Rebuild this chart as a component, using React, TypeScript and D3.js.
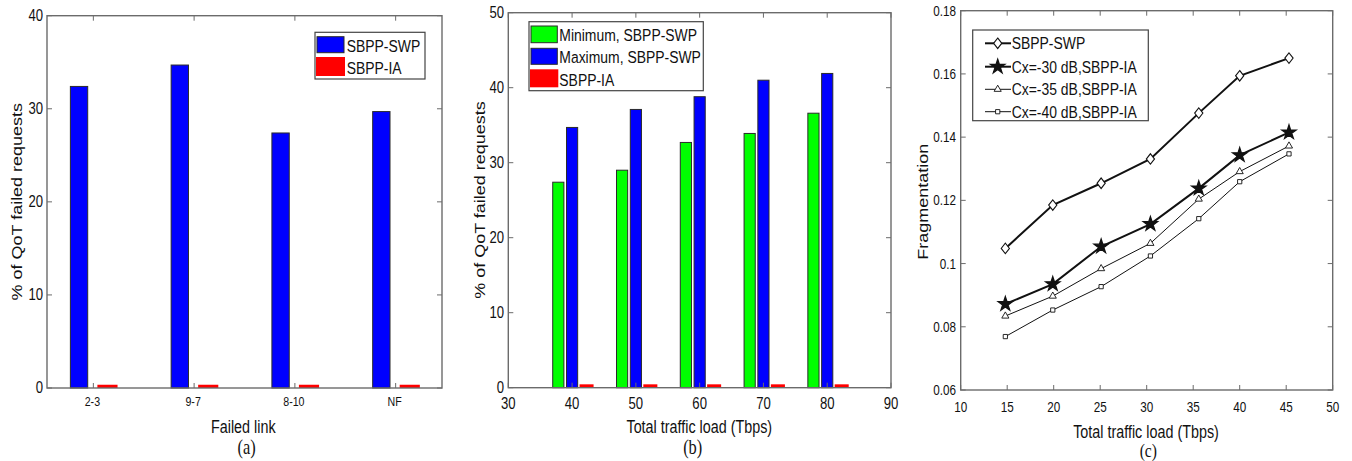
import { useEffect, useRef } from "react";
import * as d3 from "d3";

// (a) failed link
const linkLabels = ["2-3", "9-7", "8-10", "NF"];
const swpPerLink = [32.4, 34.7, 27.4, 29.7];
const iaPerLink = [0.35, 0.35, 0.35, 0.35];

// (b) total traffic load
const loadTbps = [40, 50, 60, 70, 80];
const minSwp = [27.4, 29.0, 32.7, 33.9, 36.6];
const maxSwp = [34.7, 37.1, 38.8, 41.0, 41.9];
const iaPerLoad = [0.45, 0.45, 0.45, 0.45, 0.45];

// (c) fragmentation
const fragLoad = [14.8, 19.9, 25.1, 30.4, 35.6, 40.0, 45.3];
const fragSwp = [0.1048, 0.1185, 0.1254, 0.1331, 0.1476, 0.1594, 0.165];
const fragCx30 = [0.0872, 0.0935, 0.1054, 0.1125, 0.1238, 0.1343, 0.1415];
const fragCx35 = [0.0834, 0.0897, 0.0984, 0.1064, 0.1204, 0.1291, 0.1372];
const fragCx40 = [0.0769, 0.0853, 0.0927, 0.1024, 0.1142, 0.1259, 0.1347];

const SANS = "'Liberation Sans', Arial, Helvetica, sans-serif";
const SERIF = "'Liberation Serif', 'Times New Roman', serif";
const AX = "#6b6b6b";
const EDGE = "#2b2b2b";
const SQ = 0.82; // the whole figure looks squeezed sideways

// squeezed text, centred vertically on y
function txt(g, x, y, s, size, anchor = "middle", opt: any = {}) {
    const sx = opt.sx ?? SQ;
    g.append("text")
        .attr("transform", `translate(${x},${y}) scale(${sx},1)` + (opt.rot ? " rotate(-90)" : ""))
        .attr("text-anchor", anchor)
        .attr("dominant-baseline", "central")
        .style("font-family", opt.family ?? SANS)
        .style("font-size", size + "px")
        .attr("fill", "#111")
        .text(s);
}

// box with inward ticks on all four sides (matlab style)
function frame(g, x, y, xt, yt) {
    const [x0, x1] = x.range();
    const [y0, y1] = y.range();
    const tl = 5;
    xt.forEach(t => {
        g.append("line").attr("x1", x(t)).attr("x2", x(t)).attr("y1", y0).attr("y2", y0 - tl).attr("stroke", AX);
        g.append("line").attr("x1", x(t)).attr("x2", x(t)).attr("y1", y1).attr("y2", y1 + tl).attr("stroke", AX);
    });
    yt.forEach(t => {
        g.append("line").attr("x1", x0).attr("x2", x0 + tl).attr("y1", y(t)).attr("y2", y(t)).attr("stroke", AX);
        g.append("line").attr("x1", x1).attr("x2", x1 - tl).attr("y1", y(t)).attr("y2", y(t)).attr("stroke", AX);
    });
    g.append("rect")
        .attr("x", x0).attr("y", y1)
        .attr("width", x1 - x0).attr("height", y0 - y1)
        .attr("fill", "none").attr("stroke", AX).attr("stroke-width", 1.4);
}

function bars(g, x, y, xs, vals, off, w, fill, stroke) {
    g.selectAll(null)
        .data(vals)
        .enter()
        .append("rect")
        .attr("x", (_, i) => x(xs[i] + off - w / 2))
        .attr("width", (_, i) => x(xs[i] + off + w / 2) - x(xs[i] + off - w / 2))
        .attr("y", d => y(d))
        .attr("height", d => y(0) - y(d))
        .attr("fill", fill)
        .attr("stroke", stroke ?? "none")
        .attr("stroke-width", 1);
}

function legendBox(g, x0, y0, x1, y1) {
    g.append("rect").attr("x", x0).attr("y", y0).attr("width", x1 - x0).attr("height", y1 - y0)
        .attr("fill", "white").attr("stroke", "#444").attr("stroke-width", 1.2);
}

function App() {
    const svgRef = useRef(null);

    useEffect(() => {
        const svg = d3.select(svgRef.current);
        svg.selectAll("*").remove();

        /* ---------- (a) ---------- */
        const ga = svg.append("g");
        const xa = d3.scaleLinear().domain([0.54, 4.46]).range([47, 442]);
        const ya = d3.scaleLinear().domain([0, 40]).range([388, 15.7]);
        const catX = linkLabels.map((_, i) => i + 1);
        bars(ga, xa, ya, catX, swpPerLink, -0.142, 0.172, "#0000ff", EDGE);
        bars(ga, xa, ya, catX, iaPerLink, 0.14, 0.2, "#ff0000");
        frame(ga, xa, ya, catX, ya.ticks(4));
        ya.ticks(4).forEach(t => txt(ga, 43, ya(t), String(t), 16, "end"));
        linkLabels.forEach((l, i) => txt(ga, xa(i + 1) - 1, 401.7, l, 13));
        txt(ga, 243.3, 426.7, "Failed link", 17.5);
        txt(ga, 17, 201.7, "% of QoT failed requests", 18, "middle", { rot: true });
        txt(ga, 246.7, 447, "(a)", 20, "middle", { family: SERIF });
        legendBox(ga, 315, 32.3, 425, 79);
        ga.append("rect").attr("x", 317).attr("y", 36.7).attr("width", 27).attr("height", 16).attr("fill", "#0000ff").attr("stroke", EDGE);
        ga.append("rect").attr("x", 316).attr("y", 57).attr("width", 29).attr("height", 19).attr("fill", "#ff0000");
        txt(ga, 346.7, 45.7, "SBPP-SWP", 17, "start");
        txt(ga, 346.7, 67.7, "SBPP-IA", 17, "start");

        /* ---------- (b) ---------- */
        const gb = svg.append("g");
        const xb = d3.scaleLinear().domain([30, 90]).range([508.3, 891]);
        const yb = d3.scaleLinear().domain([0, 50]).range([387.7, 12.7]);
        bars(gb, xb, yb, loadTbps, minSwp, -2.16, 1.75, "#00ff00", EDGE);
        bars(gb, xb, yb, loadTbps, maxSwp, 0, 1.75, "#0000ff", EDGE);
        bars(gb, xb, yb, loadTbps, iaPerLoad, 2.27, 2.2, "#ff0000");
        frame(gb, xb, yb, xb.ticks(6), yb.ticks(5));
        yb.ticks(5).forEach(t => txt(gb, 504, yb(t), String(t), 16, "end"));
        xb.ticks(6).forEach(t => txt(gb, xb(t), 404, String(t), 16));
        txt(gb, 699.3, 427.3, "Total traffic load (Tbps)", 17.5);
        txt(gb, 479.3, 200, "% of QoT failed requests", 18, "middle", { rot: true });
        txt(gb, 692.7, 447, "(b)", 20, "middle", { family: SERIF });
        legendBox(gb, 529, 21.7, 703.3, 90.7);
        gb.append("rect").attr("x", 531).attr("y", 26).attr("width", 26.3).attr("height", 16.7).attr("fill", "#00ff00").attr("stroke", EDGE);
        gb.append("rect").attr("x", 531).attr("y", 48.3).attr("width", 26.3).attr("height", 16).attr("fill", "#0000ff").attr("stroke", EDGE);
        gb.append("rect").attr("x", 530).attr("y", 69.3).attr("width", 28.3).attr("height", 18).attr("fill", "#ff0000");
        txt(gb, 559.3, 35, "Minimum, SBPP-SWP", 17, "start");
        txt(gb, 559.3, 57.3, "Maximum, SBPP-SWP", 17, "start");
        txt(gb, 559.3, 80, "SBPP-IA", 17, "start");

        /* ---------- (c) ---------- */
        const gc = svg.append("g");
        const xc = d3.scaleLinear().domain([10, 50]).range([960.7, 1332.7]);
        const yc = d3.scaleLinear().domain([0.06, 0.18]).range([390, 10.7]);
        const yTicksC = d3.range(0.06, 0.1801, 0.02);
        const xTicksC = d3.range(10, 50.01, 5);
        frame(gc, xc, yc, xTicksC, yTicksC);
        yTicksC.forEach(t => txt(gc, 956, yc(t), d3.format("~g")(+t.toFixed(2)), 15, "end", { sx: 0.78 }));
        xTicksC.forEach(t => txt(gc, xc(t), 407.3, String(t), 15, "middle", { sx: 0.78 }));
        txt(gc, 1146, 431.7, "Total traffic load (Tbps)", 17.5);
        txt(gc, 922.7, 201.7, "Fragmentation", 18, "middle", { rot: true });
        txt(gc, 1148.3, 451, "(c)", 19, "middle", { family: SERIF });

        const series = [
            { name: "SBPP-SWP", vals: fragSwp, lw: 2, sym: d3.symbolDiamond2, size: 70, fill: "white", sx: 0.78 },
            { name: "Cx=-30 dB,SBPP-IA", vals: fragCx30, lw: 2, sym: d3.symbolStar, size: 62, fill: "#111", sx: 1 },
            { name: "Cx=-35 dB,SBPP-IA", vals: fragCx35, lw: 1, sym: d3.symbolTriangle, size: 22, fill: "white", sx: 1 },
            { name: "Cx=-40 dB,SBPP-IA", vals: fragCx40, lw: 1, sym: d3.symbolSquare, size: 18, fill: "white", sx: 1 },
        ];
        const line = d3.line()
            .x((_, i) => xc(fragLoad[i]))
            .y(d => yc(d));
        const marker = (g, s, cx, cy) => {
            g.append("path")
                .attr("d", d3.symbol(s.sym, s.size)())
                .attr("transform", `translate(${cx},${cy}) scale(${s.sx},1)`)
                .attr("fill", s.fill)
                .attr("stroke", "#111")
                .attr("stroke-width", s.lw === 2 ? 1.3 : 0.9);
        };
        series.forEach(s => {
            gc.append("path")
                .attr("d", line(s.vals))
                .attr("fill", "none")
                .attr("stroke", "#111")
                .attr("stroke-width", s.lw);
            s.vals.forEach((v, i) => marker(gc, s, xc(fragLoad[i]), yc(v)));
        });
        legendBox(gc, 972.7, 30, 1148.3, 120.7);
        const rowY = [43.3, 66.7, 89.3, 111.7];
        series.forEach((s, i) => {
            gc.append("line").attr("x1", 985).attr("x2", 1011).attr("y1", rowY[i]).attr("y2", rowY[i])
                .attr("stroke", "#111").attr("stroke-width", s.lw);
            marker(gc, s, 997.7, rowY[i]);
            txt(gc, 1011.7, rowY[i], s.name, 17, "start");
        });
    }, []);

    return (
        <svg
            ref={svgRef}
            width={1352}
            height={461}
            style={{ position: "absolute", left: 0, top: 0, background: "white" }}
        />
    );
}

export default App;
